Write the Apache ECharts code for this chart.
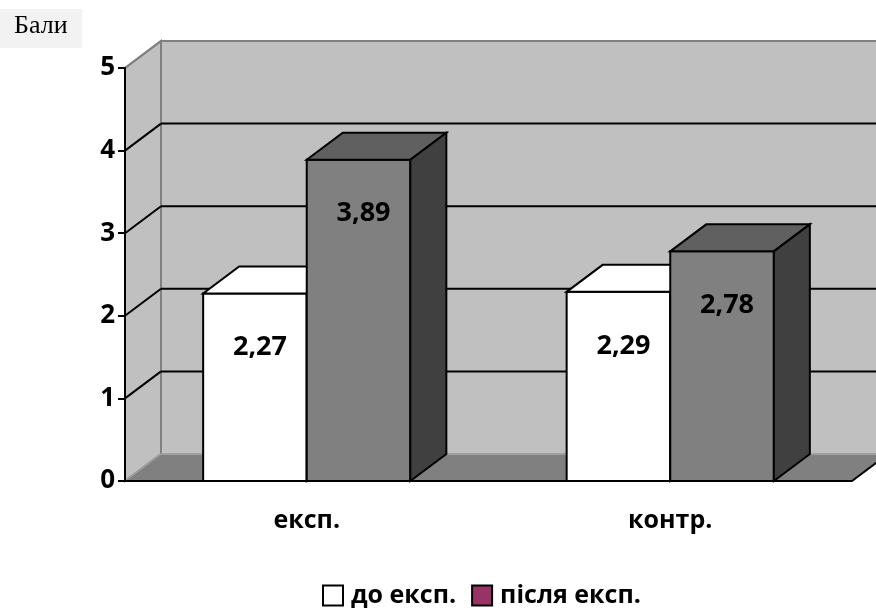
<!DOCTYPE html>
<html><head><meta charset="utf-8">
<script src="https://cdn.jsdelivr.net/npm/echarts@6/dist/echarts.min.js"></script>
<style>html,body{margin:0;padding:0;background:#fff}#c{width:876px;height:608px}</style>
</head><body><div id="c"></div>
<script>
const categories = ['експ.', 'контр.'];
const seriesNames = ['до експ.', 'після експ.'];
const beforeValues = [2.27, 2.29];
const afterValues = [3.89, 2.78];
const yMin = 0, yMax = 5, yStep = 1;
const yAxisTitle = 'Бали';

const DX = 36, DY = -27;
const FONT = '"Open Sans", "Noto Sans", sans-serif';

function fmt(v) { return v.toFixed(2).replace('.', ','); }

function renderBackground(params, api) {
  const cs = params.coordSys;
  const x0 = cs.x, y0 = cs.y + cs.height, W = cs.width, H = cs.height;
  const ch = [];
  ch.push({type: 'polygon', shape: {points: [[x0 + DX, y0 + DY], [x0 + W + DX, y0 + DY], [x0 + W + DX, y0 + DY - H], [x0 + DX, y0 + DY - H]]},
    style: {fill: '#c0c0c0', stroke: '#808080', lineWidth: 2}});
  ch.push({type: 'polygon', shape: {points: [[x0, y0], [x0, y0 - H], [x0 + DX, y0 - H + DY], [x0 + DX, y0 + DY]]},
    style: {fill: '#c0c0c0', stroke: '#808080', lineWidth: 2}});
  ch.push({type: 'polygon', shape: {points: [[x0, y0], [x0 + W, y0], [x0 + W + DX, y0 + DY], [x0 + DX, y0 + DY]]},
    style: {fill: '#808080', stroke: null}});
  ch.push({type: 'line', shape: {x1: x0 + DX, y1: y0 + DY, x2: x0 + W + DX, y2: y0 + DY}, style: {stroke: '#a0a0a0', lineWidth: 2}});
  ch.push({type: 'line', shape: {x1: x0, y1: y0, x2: x0 + DX, y2: y0 + DY}, style: {stroke: '#a0a0a0', lineWidth: 1.5}});
  ch.push({type: 'line', shape: {x1: x0 + W, y1: y0, x2: x0 + W + DX, y2: y0 + DY}, style: {stroke: '#000', lineWidth: 2}});
  for (let v = yMin + yStep; v <= yMax; v += yStep) {
    const y = api.coord([0, v])[1];
    const col = v === yMax ? '#808080' : '#000';
    ch.push({type: 'line', shape: {x1: x0, y1: y, x2: x0 + DX, y2: y + DY}, style: {stroke: col, lineWidth: 2}});
    ch.push({type: 'line', shape: {x1: x0 + DX, y1: y + DY, x2: x0 + W + DX, y2: y + DY}, style: {stroke: col, lineWidth: 2}});
  }
  return {type: 'group', children: ch};
}

function barRenderer(idx, front, top, side) {
  return function (params, api) {
    const ci = api.value(0), v = api.value(1);
    const base = api.coord([ci, 0]);
    const tp = api.coord([ci, v]);
    const band = api.size([1, 0])[0];
    const bw = band * 0.285;
    const left = idx === 0 ? base[0] - bw : base[0];
    const right = left + bw;
    const yb = base[1], yt = tp[1];
    return {type: 'group', children: [
      {type: 'polygon', shape: {points: [[left, yb], [right, yb], [right, yt], [left, yt]]}, style: {fill: front, stroke: '#000', lineWidth: 2}},
      {type: 'polygon', shape: {points: [[left, yt], [right, yt], [right + DX, yt + DY], [left + DX, yt + DY]]}, style: {fill: top, stroke: '#000', lineWidth: 2}},
      {type: 'polygon', shape: {points: [[right, yb], [right + DX, yb + DY], [right + DX, yt + DY], [right, yt]]}, style: {fill: side, stroke: '#000', lineWidth: 2}},
      {type: 'text', style: {text: fmt(v), x: (left + right) / 2 + 5, y: yt + 54, align: 'center', verticalAlign: 'middle',
        fontSize: 27, fontWeight: 'bold', fontFamily: FONT, fill: '#000'}}
    ]};
  };
}

const chart = echarts.init(document.getElementById('c'));
chart.setOption({
  animation: false,
  backgroundColor: '#fff',
  grid: {left: 125, right: 24, top: 68, bottom: 127},
  graphic: [
    {type: 'rect', left: 0, top: 9, shape: {width: 82, height: 39}, style: {fill: '#f2f2f2'}},
    {type: 'text', left: 14, top: 13, style: {text: yAxisTitle, fontSize: 26, fontFamily: '"Liberation Serif", serif', fill: '#000'}}
  ],
  legend: {
    left: 322, top: 583, padding: 0, icon: 'rect', itemWidth: 20, itemHeight: 20, itemGap: 15,
    textStyle: {fontSize: 25, fontWeight: 'bold', fontFamily: FONT, color: '#000', padding: [0, 0, 0, 3]},
    data: [
      {name: seriesNames[0], itemStyle: {color: '#ffffff', borderColor: '#000', borderWidth: 2}},
      {name: seriesNames[1], itemStyle: {color: '#993366', borderColor: '#000', borderWidth: 2}}
    ]
  },
  xAxis: {
    type: 'category', data: categories, z: 10,
    axisLine: {lineStyle: {color: '#000', width: 2}},
    axisTick: {length: 7, lineStyle: {color: '#000', width: 2}},
    axisLabel: {fontSize: 25, fontWeight: 'bold', fontFamily: FONT, color: '#000', margin: 27},
    splitLine: {show: false}
  },
  yAxis: {
    type: 'value', min: yMin, max: yMax, interval: yStep, z: 10,
    axisLine: {show: true, lineStyle: {color: '#000', width: 2}},
    axisTick: {show: true, length: 7, lineStyle: {color: '#000', width: 2}},
    axisLabel: {fontSize: 26, fontWeight: 'bold', fontFamily: FONT, color: '#000', margin: 10},
    splitLine: {show: false}
  },
  series: [
    {type: 'custom', name: 'bg', silent: true, z: 1, renderItem: renderBackground, data: [[0, 0]], encode: {x: 0, y: 1}},
    {type: 'custom', name: seriesNames[0], z: 2, itemStyle: {color: '#ffffff'}, renderItem: barRenderer(0, '#ffffff', '#ffffff', '#ffffff'),
      data: categories.map((c, i) => [i, beforeValues[i]]), encode: {x: 0, y: 1}},
    {type: 'custom', name: seriesNames[1], z: 3, itemStyle: {color: '#993366'}, renderItem: barRenderer(1, '#808080', '#606060', '#404040'),
      data: categories.map((c, i) => [i, afterValues[i]]), encode: {x: 0, y: 1}}
  ]
});
</script>
</body></html>
